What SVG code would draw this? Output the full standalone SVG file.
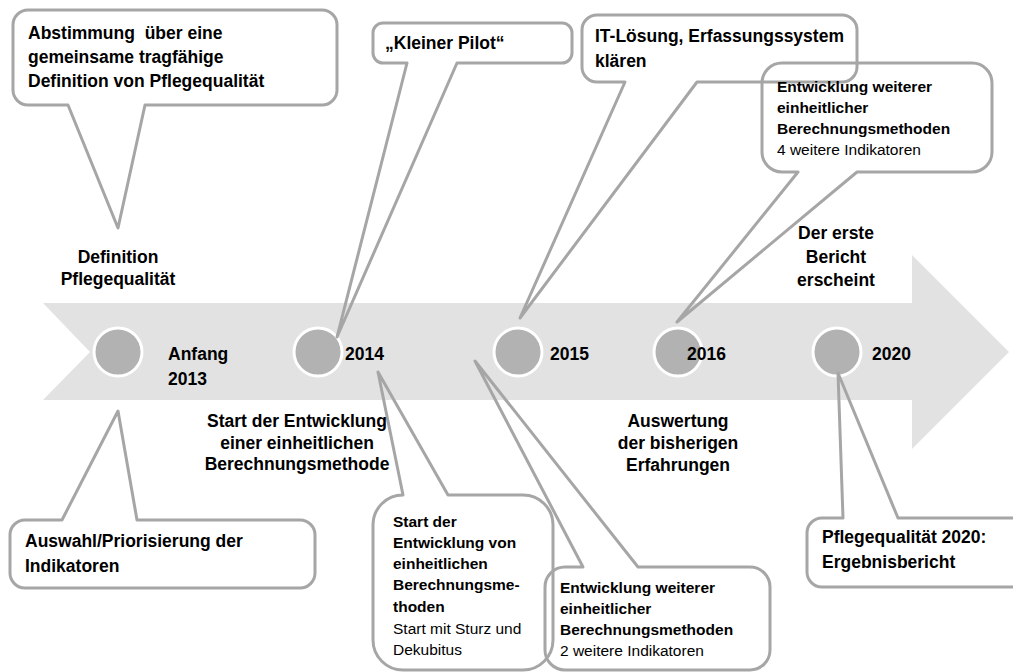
<svg xmlns="http://www.w3.org/2000/svg" width="1013" height="672" viewBox="0 0 1013 672">
<style>
.t{font-family:"Liberation Sans",Arial,sans-serif;font-weight:bold;font-size:17.5px;fill:#000}
.s{font-family:"Liberation Sans",Arial,sans-serif;font-weight:bold;font-size:15.5px;fill:#000}
.r{font-family:"Liberation Sans",Arial,sans-serif;font-weight:normal;font-size:15.5px;fill:#000}
.m{text-anchor:middle}
.co{fill:none;stroke:#a6a6a6;stroke-width:3;stroke-linejoin:round}
.dot{fill:#b2b2b2;stroke:#fff;stroke-width:3}
</style>
<rect width="1013" height="672" fill="#fff"/>
<g id="timeline">
<path d="M43,303 H912 V255 L1009,352 L912,449 V400 H43 L90,352 Z" fill="#e2e2e2"/>
</g>
<g id="milestones">
<circle class="dot" cx="118" cy="352" r="24"/>
<circle class="dot" cx="318" cy="352" r="24"/>
<circle class="dot" cx="518" cy="352" r="24"/>
<circle class="dot" cx="678" cy="352" r="24"/>
<circle class="dot" cx="837" cy="352" r="24"/>
</g>
<g id="connectors">
<path id="c1" class="co" d="M28,10 H322 A15,15 0 0 1 337,25 V90 A15,15 0 0 1 322,105 H145 L118,228 L68,105 H28 A15,15 0 0 1 13,90 V25 A15,15 0 0 1 28,10 Z"/>
<path id="c2" class="co" d="M383,23 H562 A10,10 0 0 1 572,33 V53 A10,10 0 0 1 562,63 H457 L337,337 L407,63 H383 A10,10 0 0 1 373,53 V33 A10,10 0 0 1 383,23 Z"/>
<path id="c3" class="co" d="M597,15 H842 A15,15 0 0 1 857,30 V67 A15,15 0 0 1 842,82 H697 L520,318 L625,82 H597 A15,15 0 0 1 582,67 V30 A15,15 0 0 1 597,15 Z"/>
<path id="c4" class="co" d="M782,63 H972 A20,20 0 0 1 992,83 V152 A20,20 0 0 1 972,172 H857 L677,322 L798,172 H782 A20,20 0 0 1 762,152 V83 A20,20 0 0 1 782,63 Z"/>
<path id="c5" class="co" d="M25,520 H62 L118,411 L137,520 H300 A15,15 0 0 1 315,535 V573 A15,15 0 0 1 300,588 H25 A15,15 0 0 1 10,573 V535 A15,15 0 0 1 25,520 Z"/>
<path id="c6" class="co" d="M403,495 L378,372 L448,495 H523 A30,30 0 0 1 553,525 V640 A30,30 0 0 1 523,670 H403 A30,30 0 0 1 373,640 V525 A30,30 0 0 1 403,495 Z"/>
<path id="c7" class="co" d="M565,567 H583 L475,361 L638,567 H750 A20,20 0 0 1 770,587 V650 A20,20 0 0 1 750,670 H565 A20,20 0 0 1 545,650 V587 A20,20 0 0 1 565,567 Z"/>
<path id="c8" class="co" d="M822,518 H843 L838,373 L898,518 H1015 A15,15 0 0 1 1030,533 V572 A15,15 0 0 1 1015,587 H822 A15,15 0 0 1 807,572 V533 A15,15 0 0 1 822,518 Z"/>
</g>
<g id="callout-abstimmung">
<text class="t" x="28" y="39" xml:space="preserve">Abstimmung  über eine</text>
<text class="t" x="28" y="63">gemeinsame tragfähige</text>
<text class="t" x="28" y="87">Definition von Pflegequalität</text>
</g>
<g id="callout-pilot">
<text class="t" x="385" y="49">„Kleiner Pilot“</text>
</g>
<g id="callout-it">
<text class="t" x="595" y="42">IT-Lösung, Erfassungssystem</text>
<text class="t" x="595" y="67">klären</text>
</g>
<g id="callout-4ind">
<text class="s" x="777" y="92">Entwicklung weiterer</text>
<text class="s" x="777" y="113">einheitlicher</text>
<text class="s" x="777" y="134">Berechnungsmethoden</text>
<text class="r" x="777" y="155">4 weitere Indikatoren</text>
</g>
<g id="callout-auswahl">
<text class="t" x="25" y="547">Auswahl/Priorisierung der</text>
<text class="t" x="25" y="572">Indikatoren</text>
</g>
<g id="callout-start">
<text class="s" x="393" y="527">Start der</text>
<text class="s" x="393" y="548">Entwicklung von</text>
<text class="s" x="393" y="569">einheitlichen</text>
<text class="s" x="393" y="590">Berechnungsme-</text>
<text class="s" x="393" y="612">thoden</text>
<text class="r" x="393" y="634">Start mit Sturz und</text>
<text class="r" x="393" y="655">Dekubitus</text>
</g>
<g id="callout-2ind">
<text class="s" x="560" y="593">Entwicklung weiterer</text>
<text class="s" x="560" y="614">einheitlicher</text>
<text class="s" x="560" y="635">Berechnungsmethoden</text>
<text class="r" x="560" y="656">2 weitere Indikatoren</text>
</g>
<g id="callout-bericht">
<text class="t" x="822" y="543">Pflegequalität 2020:</text>
<text class="t" x="822" y="568">Ergebnisbericht</text>
</g>
<g id="labels">
<text class="t m" x="118" y="263">Definition</text>
<text class="t m" x="118" y="285">Pflegequalität</text>
<text class="t" x="168" y="360">Anfang</text>
<text class="t" x="168" y="385">2013</text>
<text class="t" x="345" y="360">2014</text>
<text class="t" x="550" y="360">2015</text>
<text class="t" x="687" y="360">2016</text>
<text class="t" x="872" y="360">2020</text>
<text class="t m" x="836" y="239">Der erste</text>
<text class="t m" x="836" y="263">Bericht</text>
<text class="t m" x="836" y="286">erscheint</text>
<text class="t m" x="297" y="427">Start der Entwicklung</text>
<text class="t m" x="297" y="449">einer einheitlichen</text>
<text class="t m" x="297" y="470">Berechnungsmethode</text>
<text class="t m" x="678" y="427">Auswertung</text>
<text class="t m" x="678" y="449">der bisherigen</text>
<text class="t m" x="678" y="471">Erfahrungen</text>
</g>
</svg>
